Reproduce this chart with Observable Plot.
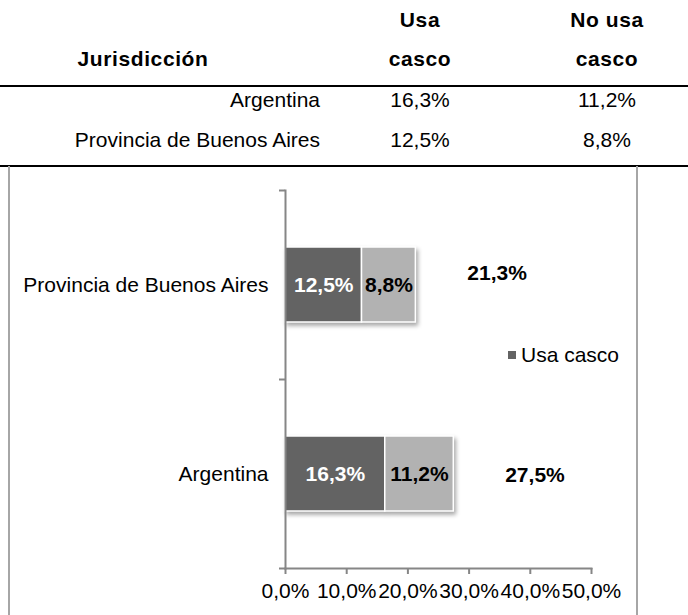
<!DOCTYPE html>
<html>
<head>
<meta charset="utf-8">
<script src="https://cdn.jsdelivr.net/npm/d3@7"></script>
<script src="https://cdn.jsdelivr.net/npm/@observablehq/plot@0.6"></script>
<style>
  body { margin: 0; background: #fff; }
  #wrap { position: relative; width: 688px; height: 615px; overflow: hidden;
          font-family: "Liberation Sans", Arial, sans-serif; color: #000; }
  .cell { position: absolute; font-size: 21px; line-height: 24px; white-space: nowrap; }
  .hd { font-weight: bold; letter-spacing: 0.6px; }
  .rule { position: absolute; left: 0; width: 688px; height: 2px; background: #000; }
  #box { position: absolute; left: 8px; top: 166px; width: 626px; height: 470px;
         border-left: 2px solid #a6a6a6; border-right: 2px solid #a6a6a6; }
  #chart { position: absolute; left: 0; top: 167px; }
  #chart g[aria-label="bar"] { filter: drop-shadow(2px 3px 2px rgba(0,0,0,0.35)); }
  #legend { position: absolute; left: 508px; top: 343px; font-size: 21px; line-height: 24px; white-space: nowrap; }
  #legend .sw { display: inline-block; width: 8px; height: 8px; margin-right: 5px; vertical-align: 3px; }
</style>
</head>
<body>
<div id="wrap">
  <div id="tbl"></div>
  <div id="box"></div>
  <div id="chart"></div>
  <div id="legend"></div>
</div>
<script>
// Jurisdicciones y porcentajes por uso de casco
const jurisdicciones = ["Argentina", "Provincia de Buenos Aires"];
const usaCasco = [16.3, 12.5];
const noUsaCasco = [11.2, 8.8];
const series = ["Usa casco", "No usa casco"];
const colores = ["#636363", "#b2b2b2"];
const xTicks = [0, 10, 20, 30, 40, 50];
const encabezados = ["Jurisdicción", ["Usa", "casco"], ["No usa", "casco"]];

const pct = v => d3.format(".1f")(v).replace(".", ",") + "%";

// ---- Tabla superior ----
const tbl = document.getElementById("tbl");
function cell(text, x, y, align, cls) {
  const d = document.createElement("div");
  d.className = "cell " + (cls || "");
  d.textContent = text;
  d.style.top = (y - 12) + "px";
  if (align === "right") { d.style.right = (688 - x) + "px"; }
  else { d.style.left = x + "px"; d.style.transform = "translateX(-50%)"; }
  tbl.appendChild(d);
}
const colX = [143, 420, 607];
cell(encabezados[0], colX[0], 59, "center", "hd");
cell(encabezados[1][0], colX[1], 20, "center", "hd");
cell(encabezados[1][1], colX[1], 59, "center", "hd");
cell(encabezados[2][0], colX[2], 20, "center", "hd");
cell(encabezados[2][1], colX[2], 59, "center", "hd");
jurisdicciones.forEach((j, i) => {
  const y = 100 + i * 40;
  cell(j, 320, y, "right");
  cell(pct(usaCasco[i]), colX[1], y, "center");
  cell(pct(noUsaCasco[i]), colX[2], y, "center");
});
[85, 165].forEach(t => {
  const r = document.createElement("div");
  r.className = "rule"; r.style.top = t + "px"; tbl.appendChild(r);
});

// ---- Gráfico de barras apiladas ----
const filas = jurisdicciones.map((j, i) => ({
  j, usa: usaCasco[i], no: noUsaCasco[i], total: +(usaCasco[i] + noUsaCasco[i]).toFixed(1)
}));
const segmentos = filas.flatMap(f => [
  {j: f.j, serie: series[0], v: f.usa},
  {j: f.j, serie: series[1], v: f.no}
]);
const colorDe = s => colores[series.indexOf(s)];

const ordenY = [...jurisdicciones].reverse();
const W = 688, H = 448, mT = 23, mB = 47, mL = 285, mR = 97;
const paso = (H - mT - mB) / ordenY.length;
const grosor = 75;

// Etiqueta del total: centrada en un tramo invisible del mismo largo que el total
const totalLabel = (sel, dx, dy) => Plot.text(filas.filter(sel), {
  x: d => d.total + d.total / 2, y: "j", text: d => pct(d.total),
  fontWeight: "bold", fontSize: 21, fill: "#000", dx, dy
});

const chart = Plot.plot({
  width: W, height: H,
  marginTop: mT, marginBottom: mB, marginLeft: mL, marginRight: mR,
  style: {fontFamily: "'Liberation Sans', Arial, sans-serif", fontSize: "21px", color: "#000", background: "transparent"},
  x: {domain: [0, 50], label: null},
  y: {domain: ordenY, padding: 0, label: null},
  color: {type: "identity"},
  marks: [
    Plot.barX(segmentos, Plot.stackX({
      x: "v", y: "j", z: "serie", order: series, fill: d => colorDe(d.serie),
      insetTop: (paso - grosor) / 2, insetBottom: (paso - grosor) / 2,
      stroke: "#fff", strokeWidth: 1.5
    })),
    Plot.text(segmentos, Plot.stackX({
      x: "v", y: "j", z: "serie", order: series,
      text: d => pct(d.v),
      fill: d => d.serie === series[0] ? "#ffffff" : "#000000",
      fontWeight: "bold", fontSize: 21
    })),
    totalLabel(d => d.j === jurisdicciones[0], -3, 1),
    totalLabel(d => d.j === jurisdicciones[1], 16, -12),
    Plot.frame({anchor: "left", stroke: "#868686", strokeWidth: 2}),
    Plot.frame({anchor: "bottom", stroke: "#868686", strokeWidth: 2}),
    Plot.axisY({tickSize: 0, tickPadding: 17, fontSize: 21, label: null}),
    Plot.axisY(ordenY, {tickSize: 6, tickFormat: () => "", dy: -paso / 2, stroke: "#868686", strokeWidth: 2, label: null}),
    Plot.axisY(ordenY.slice(-1), {tickSize: 6, tickFormat: () => "", dy: paso / 2, stroke: "#868686", strokeWidth: 2, label: null}),
    Plot.axisX({ticks: xTicks, tickSize: 6, tickPadding: 9, tickFormat: pct, fontSize: 21, stroke: "#868686", strokeWidth: 2, label: null})
  ]
});
document.getElementById("chart").appendChild(chart);

// Leyenda (sólo la primera serie)
const lg = document.getElementById("legend");
lg.innerHTML = `<span class="sw" style="background:${colores[0]}"></span>${series[0]}`;
</script>
</body>
</html>
